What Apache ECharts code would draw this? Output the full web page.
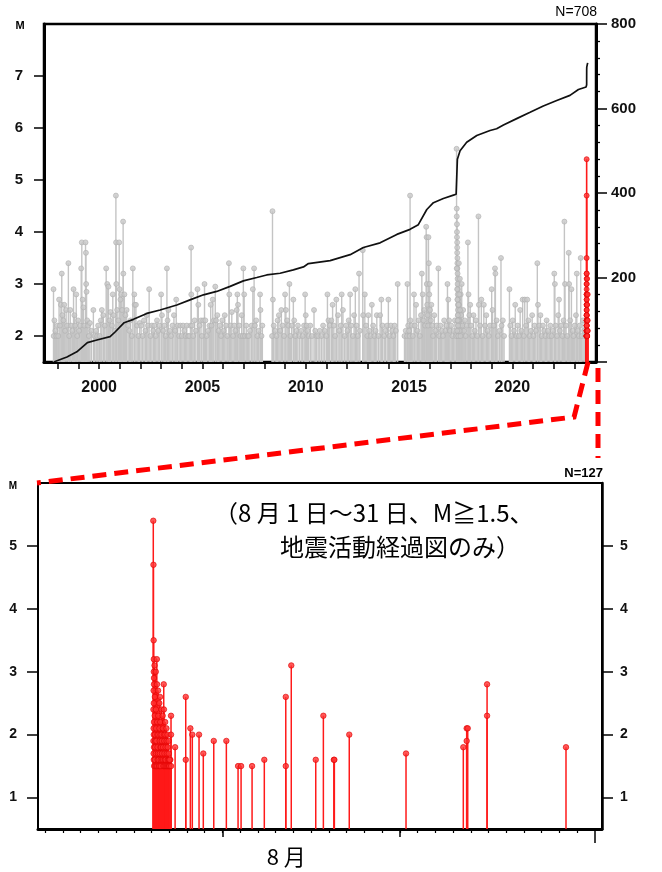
<!DOCTYPE html>
<html>
<head>
<meta charset="utf-8">
<script src="https://cdn.jsdelivr.net/npm/echarts@6.0.0/dist/echarts.min.js"></script>
<style>
  html, body { margin: 0; padding: 0; background: #fff; }
  #chart { width: 662px; height: 872px; }
</style>
</head>
<body>
<div id="chart"></div>
<script>
// ---- Long-term record (decimal year, magnitude), M >= 2.0 ----
const quakes1997to2003 = [
  [1997.79,2.9],[1997.80,2.0],[1997.83,2.3],[1997.88,2.1],[1997.93,2.0],[1997.97,2.2],
  [1998.02,2.0],[1998.06,2.7],[1998.10,2.2],[1998.15,2.6],[1998.19,3.2],[1998.22,2.4],[1998.27,2.3],[1998.31,2.6],
  [1998.35,2.1],[1998.40,2.5],[1998.45,2.2],[1998.51,3.4],[1998.55,2.0],[1998.60,2.5],[1998.64,2.2],[1998.70,2.1],
  [1998.76,2.9],[1998.80,2.4],[1998.84,2.2],[1998.89,2.8],[1998.94,2.0],[1998.98,2.3],
  [1999.03,2.1],[1999.08,2.2],[1999.13,3.3],[1999.16,3.8],[1999.20,2.7],[1999.24,2.55],[1999.28,2.2],[1999.34,3.8],
  [1999.36,3.6],[1999.37,3.0],[1999.39,2.85],[1999.42,2.3],[1999.46,2.2],[1999.50,2.0],[1999.55,2.25],[1999.62,2.1],
  [1999.72,2.5],[1999.78,2.0],[1999.85,2.1],[1999.90,2.0],[1999.95,2.2],
  [2000.02,2.0],[2000.08,2.3],[2000.13,2.5],[2000.20,2.4],[2000.27,2.2],[2000.34,3.3],[2000.39,3.0],[2000.45,2.95],
  [2000.50,2.3],[2000.55,2.46],[2000.62,2.2],[2000.66,2.8],[2000.70,2.4],[2000.76,2.1],[2000.81,4.7],[2000.82,3.8],
  [2000.83,3.0],[2000.87,2.5],[2000.93,2.3],[2000.97,3.8],[2000.99,2.9],
  [2001.03,2.7],[2001.07,2.8],[2001.11,2.5],[2001.16,4.2],[2001.17,3.2],[2001.22,2.8],[2001.27,2.4],[2001.33,2.5],
  [2001.40,2.2],[2001.46,2.1],[2001.52,2.3],[2001.58,2.0],[2001.63,3.3],[2001.70,2.8],[2001.72,2.6],[2001.78,2.6],
  [2001.84,2.2],[2001.90,2.0],[2001.96,2.25],
  [2002.03,2.2],[2002.10,2.0],[2002.17,2.3],[2002.24,2.1],[2002.30,2.4],[2002.36,2.2],[2002.42,2.9],[2002.48,2.0],
  [2002.55,2.2],[2002.62,2.1],[2002.67,2.2],[2002.74,2.0],[2002.80,2.3],[2002.86,2.1],[2002.92,2.2],
  [2003.00,2.8],[2003.04,2.4],[2003.10,2.1],[2003.16,2.2],[2003.22,2.0],[2003.28,3.3],[2003.31,2.3],[2003.35,2.5],
  [2003.42,2.1],[2003.48,2.0],[2003.55,2.2],[2003.62,2.4],[2003.68,2.1],[2003.73,2.7],[2003.80,2.2],[2003.87,2.0],
  [2003.93,2.2]
];
const quakes2004to2010 = [
  [2004.00,2.0],[2004.06,2.2],[2004.12,2.1],[2004.18,2.0],[2004.24,2.2],[2004.30,2.0],[2004.36,2.0],[2004.42,2.2],
  [2004.45,3.7],[2004.46,2.8],[2004.50,2.2],[2004.55,2.0],[2004.62,2.3],[2004.68,2.1],[2004.76,2.9],[2004.80,2.6],
  [2004.86,2.2],[2004.93,2.3],[2004.97,2.0],
  [2005.04,2.3],[2005.10,3.0],[2005.14,2.3],[2005.20,2.0],[2005.27,2.1],[2005.34,2.2],[2005.40,2.6],[2005.44,2.2],
  [2005.50,2.7],[2005.55,2.3],[2005.62,2.95],[2005.66,2.3],[2005.72,2.4],[2005.78,2.1],[2005.84,2.2],[2005.90,2.0],
  [2005.96,2.3],
  [2006.02,2.1],[2006.08,2.4],[2006.14,2.2],[2006.20,2.0],[2006.28,3.4],[2006.30,2.8],[2006.36,2.2],[2006.42,2.46],
  [2006.48,2.0],[2006.54,2.2],[2006.60,2.1],[2006.66,2.5],[2006.69,2.8],[2006.72,2.6],[2006.78,2.2],[2006.84,2.0],
  [2006.90,2.4],[2006.95,2.0],[2006.98,3.3],
  [2007.02,2.8],[2007.06,2.0],[2007.12,2.2],[2007.18,2.0],[2007.24,2.0],[2007.30,2.1],[2007.38,2.2],[2007.44,2.9],
  [2007.50,3.3],[2007.54,2.2],[2007.60,2.3],[2007.66,2.0],[2007.72,2.1],[2007.79,2.8],[2007.81,2.5],[2007.86,2.0],
  [2007.90,2.2],
  [2008.37,2.0],[2008.39,4.4],[2008.41,2.7],[2008.45,2.2],[2008.52,2.1],[2008.58,2.0],[2008.64,2.3],[2008.70,2.4],
  [2008.76,2.1],[2008.82,2.5],[2008.88,2.2],[2008.95,2.0],
  [2009.00,2.8],[2009.04,2.5],[2009.10,2.3],[2009.16,2.2],[2009.21,3.0],[2009.26,2.0],[2009.32,2.2],[2009.40,2.7],
  [2009.44,2.3],[2009.50,2.0],[2009.56,2.1],[2009.62,2.2],[2009.70,2.0],[2009.78,2.1],[2009.85,2.0],[2009.92,2.2],
  [2009.97,2.8],
  [2010.00,2.4],[2010.04,2.2],[2010.08,2.1],[2010.14,2.0],[2010.22,2.2],[2010.30,2.0],[2010.40,2.5],[2010.46,2.1],
  [2010.52,2.0],[2010.60,2.0],[2010.68,2.1],[2010.76,2.0],[2010.84,2.2],[2010.92,2.1]
];
const quakes2011to2016 = [
  [2011.00,2.0],[2011.05,2.8],[2011.10,2.3],[2011.16,2.2],[2011.24,2.3],[2011.30,2.6],[2011.36,2.2],[2011.42,2.0],
  [2011.48,2.7],[2011.56,2.4],[2011.62,2.1],[2011.70,2.2],[2011.74,2.8],[2011.80,2.5],[2011.88,2.0],[2011.95,2.2],
  [2012.02,2.1],[2012.08,2.3],[2012.15,2.8],[2012.20,2.2],[2012.28,2.0],[2012.34,2.4],[2012.40,2.9],[2012.46,2.2],
  [2012.52,2.0],[2012.58,3.2],[2012.62,2.1],[2012.76,3.65],[2012.78,2.4],[2012.86,2.8],[2012.92,2.2],[2012.98,2.0],
  [2013.03,2.4],[2013.08,2.1],[2013.14,2.0],[2013.20,2.6],[2013.26,2.2],[2013.32,2.0],[2013.38,2.1],[2013.44,2.4],
  [2013.52,2.0],[2013.60,2.4],[2013.66,2.7],[2013.72,2.2],[2013.80,2.0],[2013.86,2.1],[2013.94,2.2],
  [2014.00,2.7],[2014.06,2.0],[2014.12,2.2],[2014.18,2.1],[2014.24,2.0],[2014.30,2.2],[2014.36,2.1],[2014.45,3.0],
  [2014.78,2.0],[2014.84,2.1],[2014.90,2.0],[2014.92,3.0],[2014.96,2.2],
  [2015.00,2.1],[2015.03,2.0],[2015.05,4.7],[2015.07,2.3],[2015.12,2.2],[2015.18,2.0],[2015.24,2.8],[2015.28,2.2],
  [2015.34,2.6],[2015.40,2.1],[2015.46,2.3],[2015.52,2.0],[2015.58,2.4],[2015.62,3.2],[2015.66,2.8],[2015.70,2.3],
  [2015.74,2.5],[2015.78,2.2],[2015.83,4.1],[2015.85,3.9],[2015.86,3.0],[2015.88,2.6],[2015.90,2.4],[2015.92,2.2],
  [2015.94,3.9],[2015.96,3.4],[2015.98,2.8],
  [2016.00,3.0],[2016.02,2.5],[2016.05,2.3],[2016.08,2.6],[2016.12,2.2],[2016.16,2.0],[2016.22,2.4],[2016.28,2.1],
  [2016.34,2.2],[2016.42,3.3],[2016.46,2.0],[2016.52,2.2],[2016.58,2.1],[2016.64,2.0],[2016.70,2.3],[2016.76,2.1],
  [2016.82,2.2],[2016.86,3.0],[2016.90,2.7],[2016.94,2.3],[2016.98,2.1]
];
const quakes2017to2023 = [
  [2017.04,2.2],[2017.10,2.0],[2017.16,2.1],[2017.22,2.3],[2017.28,2.0],[2017.30,5.6],[2017.31,4.45],[2017.31,4.3],
  [2017.32,4.15],[2017.32,4.0],[2017.32,3.9],[2017.33,3.8],[2017.33,3.7],[2017.33,3.6],[2017.34,3.5],[2017.34,3.4],
  [2017.34,3.3],[2017.35,3.2],[2017.35,3.1],[2017.35,3.0],[2017.36,2.9],[2017.36,2.8],[2017.36,2.7],[2017.37,2.6],
  [2017.37,2.5],[2017.38,2.4],[2017.38,2.3],[2017.39,2.2],[2017.39,2.1],[2017.40,2.0],[2017.41,3.4],[2017.42,2.6],
  [2017.44,2.3],[2017.46,3.1],[2017.48,2.2],[2017.50,2.8],[2017.52,2.4],[2017.55,3.0],[2017.58,2.2],[2017.62,2.5],
  [2017.66,2.1],[2017.70,2.3],[2017.74,2.0],[2017.80,2.2],[2017.85,3.8],[2017.88,2.8],[2017.92,2.4],[2017.96,2.6],
  [2017.31,3.3],[2017.33,2.9],[2017.34,2.7],[2017.36,2.4],[2017.37,2.2],[2017.38,2.0],[2017.39,2.6],[2017.40,2.3],
  [2017.43,2.8],[2017.45,2.1],[2017.47,2.5],[2017.49,2.0],[2017.33,2.1],[2017.35,2.3],
  [2018.00,2.2],[2018.06,2.0],[2018.12,2.4],[2018.18,2.1],[2018.24,2.3],[2018.30,2.0],[2018.36,4.3],[2018.38,2.6],
  [2018.44,2.2],[2018.50,2.7],[2018.56,2.0],[2018.62,2.6],[2018.68,2.2],[2018.74,2.4],[2018.80,2.1],[2018.86,2.0],
  [2018.92,2.2],
  [2019.00,2.9],[2019.04,2.5],[2019.10,2.2],[2019.16,3.3],[2019.18,3.2],[2019.24,2.3],[2019.30,2.0],[2019.38,2.1],
  [2019.45,3.5],[2019.48,2.2],[2019.54,2.3],[2019.60,2.0],[2019.86,2.9],[2019.90,2.2],[2019.96,2.0],
  [2020.02,2.3],[2020.08,2.1],[2020.14,2.6],[2020.20,2.0],[2020.26,2.2],[2020.32,2.0],[2020.38,2.5],[2020.44,2.1],
  [2020.50,2.7],[2020.56,2.0],[2020.60,2.7],[2020.66,2.2],[2020.72,2.7],[2020.78,2.3],[2020.84,2.0],[2020.90,2.1],
  [2020.96,2.4],
  [2021.02,2.0],[2021.08,2.2],[2021.14,2.1],[2021.21,3.4],[2021.24,2.6],[2021.30,2.2],[2021.36,2.4],[2021.42,2.0],
  [2021.48,2.2],[2021.54,2.1],[2021.60,2.0],[2021.66,2.3],[2021.72,2.1],[2021.78,2.0],[2021.84,2.2],[2021.90,2.0],
  [2021.96,2.1],
  [2022.03,3.2],[2022.06,3.0],[2022.10,2.2],[2022.16,2.0],[2022.22,2.4],[2022.26,2.7],[2022.30,2.1],[2022.36,2.2],
  [2022.42,2.0],[2022.48,2.3],[2022.52,4.2],[2022.55,3.0],[2022.60,2.2],[2022.66,2.0],[2022.73,3.6],[2022.75,3.0],
  [2022.80,2.3],[2022.86,2.9],[2022.92,2.1],[2022.96,2.0],
  [2023.02,2.2],[2023.08,2.4],[2023.12,3.2],[2023.16,2.1],[2023.22,2.0],[2023.26,2.2],[2023.31,3.5],[2023.36,2.0],
  [2023.42,2.3],[2023.48,2.1],[2023.54,2.0]
];

// Cumulative number of M >= 2.0 events up to the end of July 2023 (decimal year, count)
const cumulativeCount = [
  [1997.80,0],[1998.44,12],[1998.92,24],[1999.43,46],[1999.89,52],[2000.53,60],[2000.77,71],[2001.21,93],
  [2001.66,101],[2002.31,115],[2002.95,123],[2003.76,135],[2004.40,147],[2005.05,159],[2005.69,167],[2006.34,179],
  [2006.98,192],[2007.63,200],[2008.11,206],[2008.76,210],[2009.40,218],[2009.89,225],[2010.13,233],[2011.18,240],
  [2012.15,254],[2012.79,271],[2013.60,282],[2014.41,302],[2015.05,314],[2015.45,325],[2015.86,361],[2016.18,377],
  [2016.66,387],[2017.15,395],[2017.28,397],[2017.34,480],[2017.47,500],[2017.79,520],[2018.28,536],[2018.92,548],
  [2019.24,552],[2019.57,561],[2020.21,576],[2020.86,591],[2021.50,606],[2022.15,619],[2022.79,631],[2023.20,645],
  [2023.57,651]
];

// ---- August 2023 (day of August, magnitude), M >= 1.5 ----
const augustSwarm = [
  [7.10,5.4],[7.11,4.7],[7.12,3.5],[7.13,3.2],[7.13,3.0],[7.14,2.9],[7.14,2.8],[7.12,2.7],[7.13,2.5],[7.11,2.4],
  [7.14,2.2],[7.12,2.1],[7.13,2.0],[7.11,1.9],[7.14,1.8],[7.12,1.7],[7.13,1.6],[7.15,1.5],
  [7.17,3.1],[7.19,2.6],[7.18,2.3],[7.20,2.0],[7.20,1.9],[7.21,1.8],[7.19,1.6],[7.22,1.5],
  [7.24,3.0],[7.25,2.4],[7.26,2.1],[7.27,1.9],[7.25,1.7],[7.28,1.5],
  [7.30,3.2],[7.31,2.8],[7.32,2.2],[7.33,2.0],[7.34,1.8],[7.35,1.6],[7.33,1.5],
  [7.37,2.7],[7.38,2.3],[7.39,2.0],[7.40,1.7],[7.36,1.7],[7.41,1.6],[7.42,1.5],
  [7.44,2.5],[7.45,2.1],[7.46,1.9],[7.47,1.7],[7.45,1.5],
  [7.48,2.6],[7.49,2.2],[7.50,2.0],[7.51,1.8],[7.52,1.6],[7.53,1.5],[7.54,1.8],
  [7.56,2.4],[7.57,2.0],[7.58,1.9],[7.59,1.7],[7.60,1.6],
  [7.63,2.3],[7.64,2.1],[7.65,1.8],[7.66,1.6],[7.67,1.5],
  [7.69,2.8],[7.70,2.4],[7.71,2.0],[7.72,1.9],[7.73,1.7],[7.74,1.5],[7.75,1.6],
  [7.77,2.2],[7.78,2.0],[7.79,1.8],[7.80,1.6],[7.81,1.5],
  [7.84,2.1],[7.85,1.9],[7.86,1.7],[7.87,1.5],
  [7.90,2.0],[7.91,1.8],[7.92,1.6],[7.93,1.5],
  [7.96,1.9],[7.97,1.7],[7.98,1.6],[7.99,1.5],[8.01,1.5]
];
const augustLater = [
  [8.10,2.3],[8.10,2.0],[8.06,1.6],[8.10,1.5],[8.02,1.6],[8.33,1.8],[8.93,2.6],[8.93,1.6],[9.19,2.1],[9.30,2.0],
  [9.68,2.0],[9.92,1.7],[10.51,1.9],[11.22,1.9],[11.88,1.5],[12.05,1.5],[12.67,1.5],[13.36,1.6],[14.57,2.6],
  [14.57,1.5],[14.88,3.1],[16.26,1.6],[16.69,2.3],[17.28,1.6],[17.31,1.6],[18.15,2.0],[21.35,1.7],[24.58,1.8],
  [24.77,2.1],[24.77,1.9],[24.83,2.1],[25.92,2.8],[25.92,2.3],[30.37,1.8]
];

// ---- Axis ticks and labels ----
const yearTicks = [1998,1999,2000,2001,2002,2003,2004,2005,2006,2007,2008,2009,2010,2011,2012,2013,2014,2015,2016,2017,2018,2019,2020,2021,2022,2023];
const yearLabels = [2000,2005,2010,2015,2020];
const magLabelsLong = [2,3,4,5,6,7];
const magLabelsAug = [1,2,3,4,5];
const dayTicks = [1,2,3,4,5,6,7,8,9,10,11,12,13,14,15,16,17,18,19,20,21,22,23,24,25,26,27,28,29,30,31];
const dekadTicks = [11,21];
const monthEndTick = [32];
const monthLabelDay = [14.6];
const monthLabel = '8 月';
const noteLines = ['（8 月 1 日～31 日、M≧1.5、', '地震活動経過図のみ）'];

// ---- Layout ----
const TOP = { left: 44, top: 24, width: 552, height: 338 };
const BOT = { left: 38, top: 483, width: 564, height: 346 };
const LONG_MIN_M = 1.5, AUG_MIN_M = 0.5;
const LONG_THRESHOLD = 2.0;

const longRecord = quakes1997to2003.concat(quakes2004to2010, quakes2011to2016, quakes2017to2023);
const august = augustSwarm.concat(augustLater);
// day of August -> decimal year (1 Aug 2023 00:00 is day-of-year 212 elapsed)
const augToYear = d => 2023 + (211 + d) / 365;
const augInLong = august.filter(e => e[1] >= LONG_THRESHOLD).map(e => [augToYear(e[0]), e[1]]);

// cumulative curve continues through August with the M>=2.0 events
const augSorted = augInLong.slice().sort((a, b) => a[0] - b[0]);
const baseCount = cumulativeCount[cumulativeCount.length - 1][1];
const cumulativeLine = cumulativeCount.concat(augSorted.map((e, i) => [e[0], baseCount + i + 1]));
const totalLong = cumulativeLine[cumulativeLine.length - 1][1];

const GRAY = '#c4c4c4', GRAY_DOT = '#c8c8c8', GRAY_EDGE = '#b0b0b0';
const RED = '#ff1a1a', RED_DOT = '#ff3030', RED_EDGE = '#e00000';
const LATIN = '"Liberation Sans", Arial, sans-serif';
const CJK = '"Noto Sans CJK JP", sans-serif';

function stems(base, color, width) {
  return function (params, api) {
    const x = api.value(0);
    const p = api.coord([x, api.value(1)]);
    const b = api.coord([x, base]);
    return {
      type: 'line',
      shape: { x1: p[0], y1: b[1], x2: p[0], y2: p[1] },
      style: { stroke: color, lineWidth: width }
    };
  };
}

const axisFont = (size) => ({ fontFamily: LATIN, fontWeight: 'bold', fontSize: size, color: '#111' });
const blackTick = (len, w) => ({ show: true, length: len, lineStyle: { color: '#000', width: w } });
const plain = v => String(v);

const chart = echarts.init(document.getElementById('chart'), null, { renderer: 'canvas' });

const option = {
  animation: false,
  backgroundColor: '#fff',
  grid: [
    Object.assign({ show: true, borderColor: '#000', borderWidth: 2.5, backgroundColor: 'transparent' }, TOP),
    Object.assign({ show: true, borderColor: '#000', borderWidth: 2, backgroundColor: 'transparent' }, BOT)
  ],
  xAxis: [
    {
      gridIndex: 0, type: 'value', position: 'bottom', min: 1997.33, max: 2024.05,
      axisLine: { show: true, lineStyle: { color: '#000', width: 3 } },
      axisTick: Object.assign(blackTick(7, 1.5), { customValues: yearTicks }),
      axisLabel: Object.assign(axisFont(16), { customValues: yearLabels, margin: 18, formatter: plain }),
      splitLine: { show: false }
    },
    {
      gridIndex: 1, type: 'value', position: 'bottom', min: 0.6, max: 32.4,
      axisLine: { show: true, lineStyle: { color: '#000', width: 3 } },
      axisTick: Object.assign(blackTick(4, 1.2), { customValues: dayTicks }),
      axisLabel: { customValues: monthLabelDay, formatter: () => monthLabel, fontFamily: CJK, fontSize: 22, color: '#000', margin: 17 },
      splitLine: { show: false }
    },
    {
      gridIndex: 1, type: 'value', position: 'bottom', min: 0.6, max: 32.4,
      axisLine: { show: false },
      axisTick: Object.assign(blackTick(8, 1.5), { customValues: dekadTicks }),
      axisLabel: { show: false }, splitLine: { show: false }
    },
    {
      gridIndex: 1, type: 'value', position: 'bottom', min: 0.6, max: 32.4,
      axisLine: { show: false },
      axisTick: Object.assign(blackTick(14, 1.5), { customValues: monthEndTick }),
      axisLabel: { show: false }, splitLine: { show: false }
    }
  ],
  yAxis: [
    {
      gridIndex: 0, type: 'value', min: LONG_MIN_M, max: 8, position: 'left',
      axisLine: { show: true, lineStyle: { color: '#000', width: 3 } },
      axisTick: Object.assign(blackTick(10, 1.5), { customValues: magLabelsLong }),
      axisLabel: Object.assign(axisFont(15), { customValues: magLabelsLong, margin: 21 }),
      splitLine: { show: false }
    },
    {
      gridIndex: 0, type: 'value', min: 0, max: 800, interval: 200, position: 'right',
      axisLine: { show: true, lineStyle: { color: '#000', width: 3 } },
      axisTick: blackTick(11, 1.5),
      minorTick: { show: true, splitNumber: 5, length: 4, lineStyle: { color: '#000', width: 1.3 } },
      axisLabel: Object.assign(axisFont(15), { showMinLabel: false, margin: 15, formatter: plain }),
      splitLine: { show: false }, minorSplitLine: { show: false }
    },
    {
      gridIndex: 1, type: 'value', min: AUG_MIN_M, max: 6, position: 'left',
      axisLine: { show: true, lineStyle: { color: '#000', width: 2 } },
      axisTick: Object.assign(blackTick(11, 1.5), { customValues: magLabelsAug }),
      axisLabel: Object.assign(axisFont(14), { customValues: magLabelsAug, margin: 21 }),
      splitLine: { show: false }
    },
    {
      gridIndex: 1, type: 'value', min: AUG_MIN_M, max: 6, position: 'right',
      axisLine: { show: true, lineStyle: { color: '#000', width: 2.5 } },
      axisTick: Object.assign(blackTick(11, 1.5), { customValues: magLabelsAug }),
      axisLabel: Object.assign(axisFont(14), { customValues: magLabelsAug, margin: 18 }),
      splitLine: { show: false }
    }
  ],
  series: [
    { type: 'custom', xAxisIndex: 0, yAxisIndex: 0, renderItem: stems(LONG_MIN_M, GRAY, 1.4), data: longRecord, z: 2, silent: true, clip: true },
    { type: 'scatter', xAxisIndex: 0, yAxisIndex: 0, data: longRecord, symbol: 'circle', symbolSize: 5,
      itemStyle: { color: GRAY_DOT, borderColor: GRAY_EDGE, borderWidth: 0.8 }, z: 3, silent: true },
    { type: 'line', xAxisIndex: 0, yAxisIndex: 1, data: cumulativeLine, showSymbol: false, symbol: 'none',
      lineStyle: { color: '#111', width: 1.7 }, z: 4, silent: true },
    { type: 'custom', xAxisIndex: 0, yAxisIndex: 0, renderItem: stems(LONG_MIN_M, RED, 1.6), data: augInLong, z: 5, silent: true, clip: true },
    { type: 'scatter', xAxisIndex: 0, yAxisIndex: 0, data: augInLong, symbol: 'circle', symbolSize: 5,
      itemStyle: { color: RED_DOT, borderColor: RED_EDGE, borderWidth: 0.8 }, z: 6, silent: true },
    { type: 'custom', xAxisIndex: 1, yAxisIndex: 2, renderItem: stems(AUG_MIN_M, RED, 1.5), data: august, z: 5, silent: true, clip: true },
    { type: 'scatter', xAxisIndex: 1, yAxisIndex: 2, data: august, symbol: 'circle', symbolSize: 5.5,
      itemStyle: { color: RED_DOT, borderColor: RED_EDGE, borderWidth: 0.8 }, z: 6, silent: true }
  ]
};
chart.setOption(option);

// Connector between the August interval of the long record and the detail panel
const topEnd = chart.convertToPixel({ xAxisIndex: 0, yAxisIndex: 0 }, [augToYear(32), LONG_MIN_M]);
const elbow = [topEnd[0] - 14, topEnd[1] + 55];
const botCorner = [BOT.left - 1, BOT.top];
const rightX = TOP.left + TOP.width + 2;
const dash = { stroke: '#ff0000', lineWidth: 5, lineDash: [14, 8], fill: null };

const text = (x, y, str, font, align) => ({
  type: 'text', x: x, y: y, z: 20, silent: true,
  style: { text: str, font: font, fill: '#000', textAlign: align, textVerticalAlign: 'middle' }
});

chart.setOption({
  graphic: [
    { type: 'polyline', z: 15, silent: true, shape: { points: [topEnd, elbow, botCorner] }, style: dash },
    { type: 'line', z: 15, silent: true, shape: { x1: rightX, y1: TOP.top + TOP.height + 6, x2: rightX, y2: BOT.top - 25 }, style: dash },
    text(TOP.left - 24, TOP.top + 2, 'M', 'bold 11px ' + LATIN, 'center'),
    text(TOP.left + TOP.width + 1, TOP.top - 12, 'N=' + totalLong, '14px ' + LATIN, 'right'),
    text(BOT.left - 25, BOT.top + 3, 'M', 'bold 10px ' + LATIN, 'center'),
    text(BOT.left + BOT.width + 1, BOT.top - 10, 'N=' + august.length, 'bold 13px ' + LATIN, 'right'),
    text(BOT.left + 176, BOT.top + 30, noteLines[0], '24px ' + CJK, 'left'),
    text(BOT.left + 242, BOT.top + 64, noteLines[1], '24px ' + CJK, 'left')
  ]
});
</script>
</body>
</html>
